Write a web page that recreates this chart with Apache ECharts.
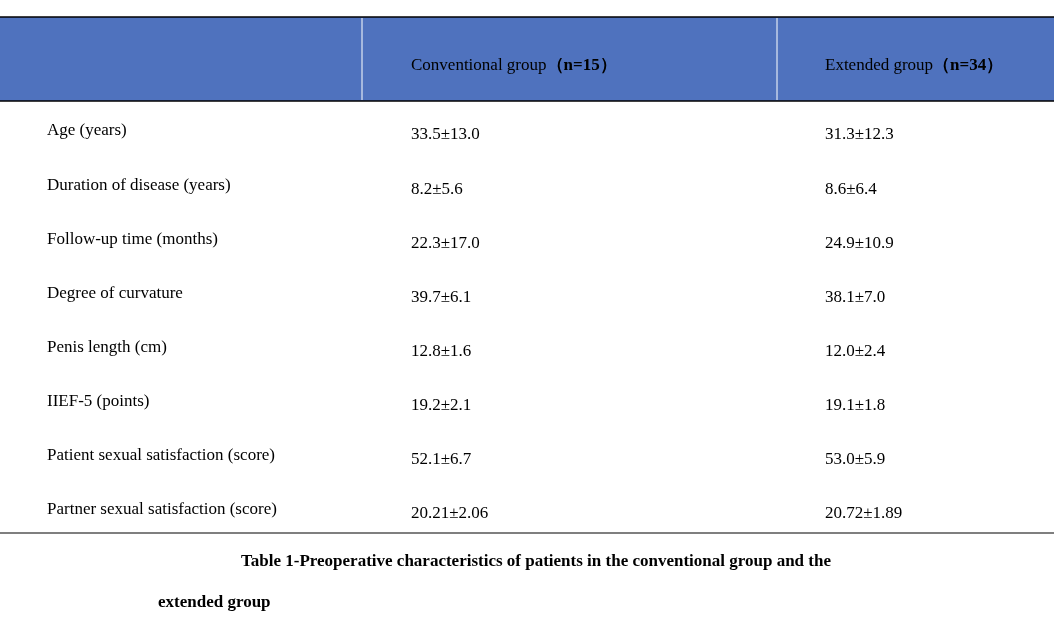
<!DOCTYPE html>
<html><head><meta charset="utf-8">
<script src="https://cdn.jsdelivr.net/npm/echarts@6/dist/echarts.min.js"></script>
<style>html,body{margin:0;background:#fff}#c{width:1054px;height:620px}</style>
</head><body><div id="c"></div>
<script>
const rowLabels = ["Age (years)", "Duration of disease (years)", "Follow-up time (months)", "Degree of curvature", "Penis length (cm)", "IIEF-5 (points)", "Patient sexual satisfaction (score)", "Partner sexual satisfaction (score)"]
const conventional = ["33.5±13.0", "8.2±5.6", "22.3±17.0", "39.7±6.1", "12.8±1.6", "19.2±2.1", "52.1±6.7", "20.21±2.06"]
const extended = ["31.3±12.3", "8.6±6.4", "24.9±10.9", "38.1±7.0", "12.0±2.4", "19.1±1.8", "53.0±5.9", "20.72±1.89"]
const headers = [["Conventional group", "（n=15）"], ["Extended group", "（n=34）"]]
const caption = ["Table 1-Preoperative characteristics of patients in the conventional group and the", "extended group"]

const chart = echarts.init(document.getElementById('c'))
const font = '"Liberation Serif", "Times New Roman", serif'
const colX = [47, 411, 825]
const g = []
g.push({ type: 'rect', shape: { x: 0, y: 17, width: 1054, height: 84 }, style: { fill: '#4f72be' } })
g.push({ type: 'line', shape: { x1: 0, y1: 17, x2: 1054, y2: 17 }, style: { stroke: '#000', lineWidth: 1.5 } })
g.push({ type: 'line', shape: { x1: 0, y1: 101, x2: 1054, y2: 101 }, style: { stroke: '#000', lineWidth: 1.5 } })
g.push({ type: 'line', shape: { x1: 0, y1: 533, x2: 1054, y2: 533 }, style: { stroke: '#000', lineWidth: 1.2 } })
;[362, 777].forEach(x => g.push({ type: 'line', shape: { x1: x, y1: 18, x2: x, y2: 100 }, style: { stroke: '#fff', lineWidth: 1 } }))
headers.forEach((h, i) => {
  g.push({ type: 'text', x: colX[i + 1], y: 66, style: { text: '{a|' + h[0] + '}{b|' + h[1] + '}', verticalAlign: 'middle',
    rich: { a: { font: '17px ' + font, fill: '#000' }, b: { font: 'bold 17px ' + font, fill: '#000' } } } })
})
rowLabels.forEach((lab, i) => {
  const y = 131 + i * 54.1
  g.push({ type: 'text', x: colX[0], y: y, style: { text: lab, font: '17px ' + font, fill: '#000', verticalAlign: 'middle' } })
  g.push({ type: 'text', x: colX[1], y: y + 4, style: { text: conventional[i], font: '17px ' + font, fill: '#000', verticalAlign: 'middle' } })
  g.push({ type: 'text', x: colX[2], y: y + 4, style: { text: extended[i], font: '17px ' + font, fill: '#000', verticalAlign: 'middle' } })
})
g.push({ type: 'text', x: 536, y: 562, style: { text: caption[0], font: 'bold 17px ' + font, fill: '#000', align: 'center', verticalAlign: 'middle' } })
g.push({ type: 'text', x: 158, y: 603, style: { text: caption[1], font: 'bold 17px ' + font, fill: '#000', verticalAlign: 'middle' } })
chart.setOption({ animation: false, graphic: g })
</script></body></html>
